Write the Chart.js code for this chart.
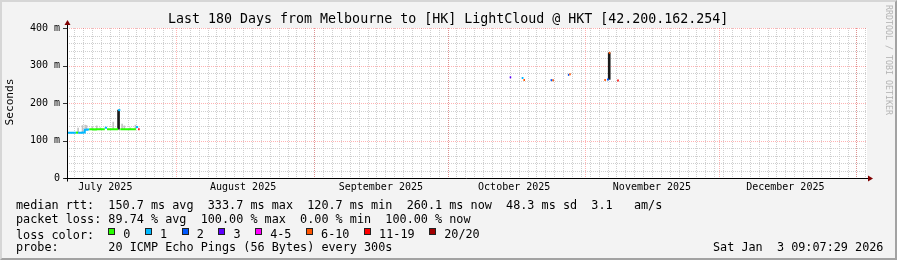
<!DOCTYPE html>
<html>
<head>
<meta charset="utf-8">
<script src="https://cdn.jsdelivr.net/npm/chart.js@4.4.1/dist/chart.umd.min.js"></script>
<style>
  html, body { margin: 0; padding: 0; background: #f3f3f3; }
  #frame {
    position: absolute; left: 0; top: 0; width: 897px; height: 260px;
    box-sizing: border-box; background: #f3f3f3;
    border: 2px solid; border-color: #d6d6d6 #a2a2a2 #a2a2a2 #d6d6d6;
  }
  #chart { position: absolute; left: 0; top: 0; }
  .txt {
    position: absolute; font-family: 'DejaVu Sans Mono', monospace;
    white-space: pre; color: #000; line-height: 1;
  }
  .leg { font-size: 11.8px; left: 16px; }
  .box {
    display: inline-block; width: 5px; height: 5px; border: 1px solid #222;
    vertical-align: 3.5px; margin-right: 8px;
  }
</style>
</head>
<body>
<div id="frame"></div>
<canvas id="chart" width="897" height="260"></canvas>

<div class="txt" style="font-size:13.3px; left:168px; top:12px;">Last 180 Days from Melbourne to [HK] LightCloud @ HKT [42.200.162.254]</div>
<div class="txt" style="font-size:11.2px; left:-14px; top:96px; width:48px; height:12px; text-align:center; transform:rotate(-90deg);">Seconds</div>
<div class="txt" style="font-size:8.3px; left:833px; top:55px; width:110px; height:10px; text-align:center; color:#b4b4b4; transform:rotate(90deg);">RRDTOOL / TOBI OETIKER</div>

<div class="txt leg" style="top:199.5px;">median rtt:  150.7 ms avg  333.7 ms max  120.7 ms min  260.1 ms now  48.3 ms sd  3.1   am/s</div>
<div class="txt leg" style="top:213.5px;">packet loss: 89.74 % avg  100.00 % max  0.00 % min  100.00 % now</div>
<div class="txt leg" id="losslegend" style="top:227.5px;"></div>
<div class="txt leg" style="top:241.5px;">probe:       20 ICMP Echo Pings (56 Bytes) every 300s</div>
<div class="txt leg" style="top:241.5px; left:713px;">Sat Jan  3 09:07:29 2026</div>

<script>
// time frame: 180 days ending Sat Jan 3 09:07:29 2026, x axis in days from start
const START = Date.UTC(2025, 6, 7, 9, 7, 29);
const SPAN_DAYS = 180;
const dayOf = (y, m, d) => (Date.UTC(y, m, d) - START) / 864e5;

const monthLabels = ['July 2025', 'August 2025', 'September 2025', 'October 2025', 'November 2025', 'December 2025'];
const monthLabelDates = [[2025, 6, 16], [2025, 7, 16], [2025, 8, 16], [2025, 9, 16], [2025, 10, 16], [2025, 11, 16]];
const monthStarts = [[2025, 7, 1], [2025, 8, 1], [2025, 9, 1], [2025, 10, 1], [2025, 11, 1], [2026, 0, 1]];

// median rtt samples: start day, median (ms), lost pings of 20
const sampleDay = [
  0, 0.5, 1, 1.5, 2, 2.5, 3, 3.5, 4, 4.5, 5, 5.5, 6, 6.5, 7, 7.5, 8, 8.5, 9, 9.5,
  10, 10.5, 11, 11.5, 12, 12.5, 13, 13.5, 14, 14.5, 15, 15.5, 16,
  99.6, 102.3, 102.7, 108.8, 109.2, 112.7, 113.0, 120.9, 121.5, 121.9, 123.8
];
const medianMs = [
  121, 121, 120.7, 121, 121, 121, 121, 121.5, 129, 129.5, 129.8, 130, 129.6, 129.8, 130, 129.8, 130, 134, 130, 129.7,
  130, 130, 130, 181, 130, 129.8, 130, 130, 129.8, 130, 130, 136, 130,
  268.5, 266.7, 261.5, 261, 261, 275, 276.5, 261.5, 263, 333.7, 260.1
];
const lossCount = [
  1, 1, 1, 1, 0, 1, 1, 1, 1, 1, 0, 0, 0, 0, 0, 0, 0, 1, 0, 0,
  0, 0, 0, 1, 0, 0, 0, 0, 0, 0, 0, 1, 15,
  3, 1, 8, 2, 8, 2, 8, 8, 2, 8, 15
];

// light smoke (spread of the 20 pings)
const smokeDay = [2.5, 3.5, 4.1, 4.4, 5.7, 6.7, 7.5, 10.4, 12.4, 12.9, 14.2, 15.4];
const smokeLo = [120, 121, 128, 128, 129, 129, 129, 129, 129, 129, 129, 129];
const smokeHi = [133, 140, 141, 140, 136, 139, 134, 149, 144, 139, 134, 141];

// dark smoke spikes
const spikeDay = [11.6, 122.0];
const spikeLo = [130, 263];
const spikeHi = [181, 333.7];

const lossLabels = ['0', '1', '2', '3', '4-5', '6-10', '11-19', '20/20'];
const lossUpper = [0, 1, 2, 3, 5, 10, 19, 20];
const lossColors = ['#26ff00', '#00b8ff', '#0059ff', '#5e00ff', '#ff00ff', '#ff5500', '#ff0000', '#a10000'];

const bucket = n => lossUpper.findIndex(u => n <= u);
const lossColor = n => lossColors[bucket(n)];

// legend row
document.getElementById('losslegend').innerHTML = 'loss color:  ' + lossLabels.map((l, i) =>
  `<span class="box" style="background:${lossColors[i]}"></span><span style="margin-right:14.6px">${l}</span>`
).join('');

// median as horizontal pieces, vertical joins only within one loss colour
const medianPts = [];
sampleDay.forEach((d, i) => {
  const next = sampleDay[i + 1];
  const end = next !== undefined && next - d <= 0.55 ? next : d + 0.35;
  medianPts.push({ x: d, y: medianMs[i], s: i });
  medianPts.push({ x: end, y: medianMs[i], s: i });
});

const gridPlugin = {
  id: 'smokeGrid',
  beforeDraw(chart) {
    const { ctx, chartArea: a } = chart;
    ctx.save();
    ctx.fillStyle = '#ffffff';
    ctx.fillRect(a.left, a.top, a.right - a.left, a.bottom - a.top);
    ctx.restore();
  },
  beforeDatasetsDraw(chart) {
    const { ctx, chartArea: a, scales: { x, y } } = chart;
    ctx.save();
    ctx.lineWidth = 1;
    ctx.setLineDash([1, 1]);
    const vline = (px, c) => {
      px = Math.round(px) + 0.5;
      ctx.strokeStyle = c;
      ctx.beginPath(); ctx.moveTo(px, a.top); ctx.lineTo(px, a.bottom); ctx.stroke();
    };
    const hline = (py, c) => {
      py = Math.round(py) + 0.5;
      ctx.strokeStyle = c;
      ctx.beginPath(); ctx.moveTo(a.left, py); ctx.lineTo(a.right, py); ctx.stroke();
    };
    // minor: every 2 days, every 20 ms
    const first = Math.ceil(START / 864e5);
    for (let k = first; k <= first + SPAN_DAYS; k++) {
      if (k % 2) continue;
      const d = k - START / 864e5;
      if (d > 0 && d < SPAN_DAYS) vline(x.getPixelForValue(d), '#cfcfcf');
    }
    for (let v = 20; v <= 400; v += 20) {
      if (v % 100) hline(y.getPixelForValue(v), '#cfcfcf');
    }
    // major: month starts, every 100 ms
    monthStarts.forEach(m => vline(x.getPixelForValue(dayOf(...m)), 'rgba(255,0,0,0.3)'));
    for (let v = 100; v <= 400; v += 100) hline(y.getPixelForValue(v), 'rgba(255,0,0,0.3)');
    ctx.restore();
  },
  afterDatasetsDraw(chart) {
    const { ctx, chartArea: a, scales: { y } } = chart;
    ctx.save();
    ctx.lineWidth = 1;
    ctx.strokeStyle = '#333';
    ctx.beginPath();
    for (let v = 0; v <= 400; v += 100) {
      const py = Math.round(y.getPixelForValue(v)) + 0.5;
      ctx.moveTo(a.left - 4, py); ctx.lineTo(a.left, py);
    }
    ctx.stroke();
    const ax = Math.round(a.left) + 0.5, ay = Math.round(a.bottom) + 0.5;
    ctx.strokeStyle = '#000';
    ctx.beginPath();
    ctx.moveTo(ax, ay + 3); ctx.lineTo(ax, a.top - 3);
    ctx.moveTo(ax - 3, ay); ctx.lineTo(a.right + 1, ay);
    ctx.stroke();
    ctx.fillStyle = '#7f0000';
    ctx.beginPath();
    ctx.moveTo(ax - 3, a.top - 3); ctx.lineTo(ax + 3, a.top - 3); ctx.lineTo(ax, a.top - 8); ctx.closePath();
    ctx.fill();
    ctx.beginPath();
    ctx.moveTo(a.right + 1, ay - 3); ctx.lineTo(a.right + 1, ay + 3); ctx.lineTo(a.right + 6, ay); ctx.closePath();
    ctx.fill();
    ctx.restore();
  }
};

Chart.defaults.font.family = "'DejaVu Sans Mono', monospace";
Chart.defaults.color = '#000';

new Chart(document.getElementById('chart'), {
  type: 'bar',
  data: {
    datasets: [
      {
        type: 'line',
        data: medianPts,
        borderColor: lossColors[0],
        borderWidth: 2,
        pointRadius: 0,
        tension: 0,
        order: 0,
        segment: {
          borderColor: ctx => {
            const p = medianPts[ctx.p0DataIndex], q = medianPts[ctx.p1DataIndex];
            if (p.s === q.s) return lossColor(lossCount[p.s]);
            if (p.x === q.x && bucket(lossCount[p.s]) === bucket(lossCount[q.s])) return lossColor(lossCount[p.s]);
            return 'rgba(0,0,0,0)';
          }
        }
      },
      {
        data: spikeDay.map((d, i) => ({ x: d, y: [spikeLo[i], spikeHi[i]] })),
        backgroundColor: '#1a1a1a',
        barThickness: 2,
        grouped: false,
        order: 1
      },
      {
        data: smokeDay.map((d, i) => ({ x: d, y: [smokeLo[i], smokeHi[i]] })),
        backgroundColor: '#c4c4c4',
        barThickness: 1,
        grouped: false,
        order: 2
      }
    ]
  },
  options: {
    responsive: false,
    animation: false,
    devicePixelRatio: 1,
    layout: { padding: { left: 0, top: 28, right: 30, bottom: 62 } },
    plugins: { legend: { display: false }, tooltip: { enabled: false }, title: { display: false } },
    scales: {
      x: {
        type: 'linear',
        min: 0,
        max: SPAN_DAYS,
        offset: false,
        grid: { display: false, drawTicks: false, tickLength: 0 },
        border: { display: false },
        afterFit: s => { s.height = 20; },
        afterBuildTicks: s => { s.ticks = monthLabelDates.map(m => ({ value: dayOf(...m) })); },
        ticks: {
          autoSkip: false,
          maxRotation: 0,
          padding: 3,
          font: { size: 10 },
          callback: (v, i) => monthLabels[i]
        }
      },
      y: {
        min: 0,
        max: 400,
        grid: { display: false, drawTicks: false, tickLength: 0 },
        border: { display: false },
        afterFit: s => { s.width = 67; },
        ticks: {
          stepSize: 100,
          padding: 7,
          font: { size: 10 },
          callback: v => (v === 0 ? '0' : v + ' m')
        }
      }
    }
  },
  plugins: [gridPlugin]
});
</script>
</body>
</html>
